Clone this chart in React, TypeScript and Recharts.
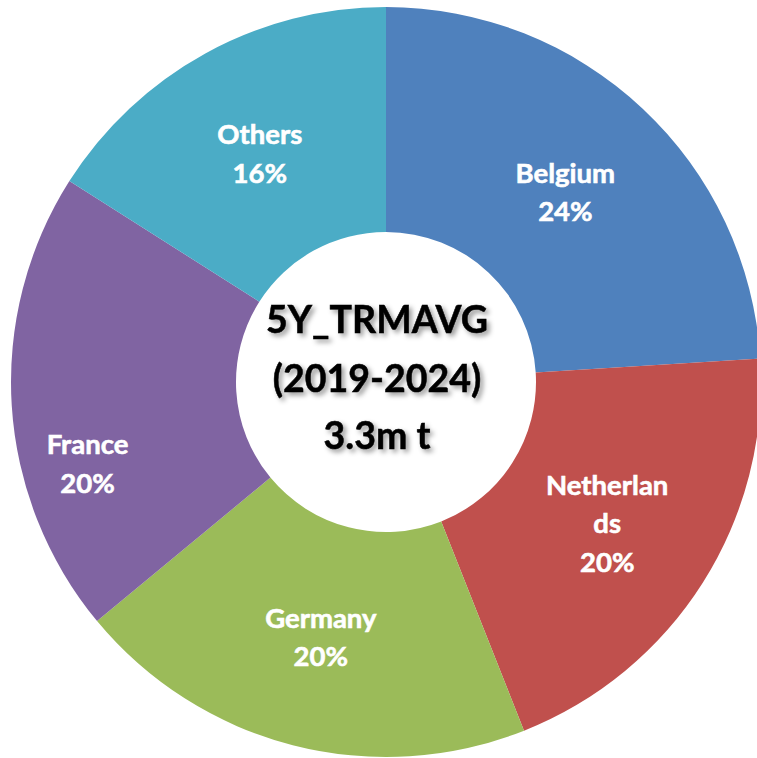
import React from 'react';
import { PieChart, Pie, Cell } from 'recharts';

const countries = ['Belgium', 'Netherlands', 'Germany', 'France', 'Others'];
const shares = [24, 20, 20, 20, 16];
const colors = ['#4F81BD', '#C0504D', '#9BBB59', '#8064A2', '#4BACC6'];
const centerLines = ['5Y_TRMAVG', '(2019-2024)', '3.3m t'];

const data = countries.map((name, i) => ({ name, value: shares[i] }));

const RAD = Math.PI / 180;
const LABEL_R = 262;
const LINE_H = 38.5;

// Excel pushed the France label out a bit
const labelNudge: Record<string, [number, number]> = {
  France: [-37, 64],
};

const wrapName = (name: string) =>
  name.length > 10 ? [name.slice(0, 9), name.slice(9)] : [name];

const renderLabel = (props: any) => {
  const { cx, cy, midAngle, name, value } = props;
  const [nx, ny] = labelNudge[name] || [0, 0];
  const x = cx + LABEL_R * Math.cos(-midAngle * RAD) + nx;
  const y = cy + LABEL_R * Math.sin(-midAngle * RAD) + ny;
  const lines = [...wrapName(name), `${value}%`];
  const firstBase = y - ((lines.length - 1) * LINE_H) / 2 + 11;
  return (
    <text
      x={x}
      y={firstBase}
      textAnchor="middle"
      fill="#FFFFFF"
      fontFamily="Lato, 'Liberation Sans', sans-serif"
      fontWeight={700}
      fontSize={27.5}
      stroke="#FFFFFF"
      strokeWidth={0.6}
    >
      {lines.map((l, i) => (
        <tspan key={i} x={x} y={firstBase + i * LINE_H}>
          {l}
        </tspan>
      ))}
    </text>
  );
};

const App: React.FC = () => {
  return (
    <div style={{ position: 'absolute', left: 0, top: 0, width: 757, height: 758, background: '#fff' }}>
      <PieChart width={757} height={758} margin={{ top: 0, right: 0, bottom: 0, left: 0 }}>
        <Pie
          data={data}
          dataKey="value"
          nameKey="name"
          cx={386}
          cy={382}
          innerRadius={150}
          outerRadius={375}
          startAngle={90}
          endAngle={-270}
          stroke="none"
          label={renderLabel}
          labelLine={false}
          isAnimationActive={false}
        >
          {data.map((d, i) => (
            <Cell key={d.name} fill={colors[i]} />
          ))}
        </Pie>
      </PieChart>
      <svg
        width={757}
        height={758}
        style={{ position: 'absolute', left: 0, top: 0, pointerEvents: 'none' }}
      >
        <defs>
          <filter id="txtShadow" x="-20%" y="-30%" width="140%" height="160%">
            <feDropShadow dx={3} dy={3} stdDeviation={2.5} floodColor="#000" floodOpacity={0.4} />
          </filter>
        </defs>
        <g
          filter="url(#txtShadow)"
          fontFamily="Lato, 'Liberation Sans', sans-serif"
          fontWeight={700}
          fontSize={37.5}
          fill="#000"
          stroke="#000"
          strokeWidth={0.5}
          textAnchor="middle"
        >
          {centerLines.map((l, i) => (
            <text key={i} x={377} y={[333, 392, 449][i]}>
              {l}
            </text>
          ))}
        </g>
      </svg>
    </div>
  );
};

export default App;
